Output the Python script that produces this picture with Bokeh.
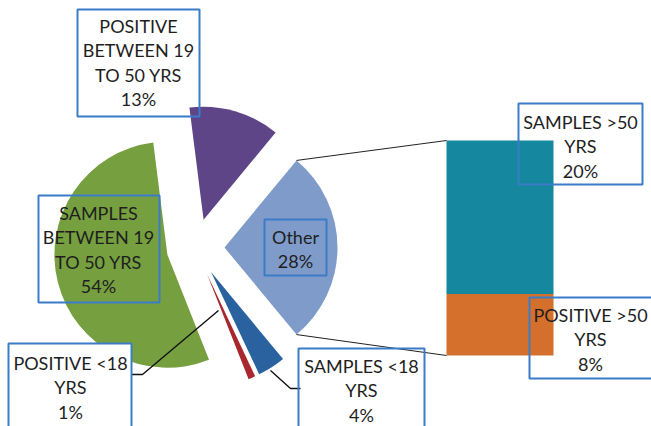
import numpy as np
from bokeh.plotting import figure
from bokeh.models import Range1d
from bokeh.core.properties import value
from bokeh.embed import file_html
from bokeh.resources import INLINE

# ---------------- data ----------------
pie_names = ["SAMPLES <18\nYRS", "POSITIVE <18\nYRS",
             "SAMPLES\nBETWEEN 19\nTO 50 YRS", "POSITIVE\nBETWEEN 19\nTO 50 YRS"]
pie_values = [4, 1, 54, 13]
pie_colors = ["#2A62A0", "#A8272F", "#76A03F", "#5E4587"]

bar_names = ["SAMPLES >50\nYRS", "POSITIVE >50\nYRS"]
bar_values = [20, 8]
bar_colors = ["#15879E", "#D4702C"]

other_name = "Other"
other_value = sum(bar_values)
other_color = "#7E9BC9"

# ---------------- layout (screen px -> data units, 1 unit = 1 px) ----------------
W, H = 651, 426
def Y(y):
    return H - y

PCX, PCY = 195, Y(247)   # pie centre
R = 113                  # pie radius
EXP = 29                 # explosion distance
DEG = 3.6                # degrees per percent

p = figure(width=W, height=H, x_range=Range1d(0, W), y_range=Range1d(0, H),
           output_backend="svg", toolbar_location=None, min_border=0,
           x_axis_location=None, y_axis_location=None)
p.grid.visible = False
p.outline_line_color = None
p.background_fill_color = "white"

# pie slices (clockwise, starting at bottom edge of "Other")
start = -other_value * DEG / 2
a = start
wx, wy, ws, we, wc = [], [], [], [], []
for v, c in zip(pie_values, pie_colors):
    end = a
    st = a - v * DEG
    mid = np.radians((st + end) / 2)
    wx.append(PCX + EXP * np.cos(mid)); wy.append(PCY + EXP * np.sin(mid))
    ws.append(np.radians(st)); we.append(np.radians(end)); wc.append(c)
    a = st
# other slice
o_st, o_end = start, start + other_value * DEG
o_mid = np.radians((o_st + o_end) / 2)
ox, oy = PCX + EXP * np.cos(o_mid), PCY + EXP * np.sin(o_mid)
wx.append(ox); wy.append(oy); ws.append(np.radians(o_st)); we.append(np.radians(o_end)); wc.append(other_color)

p.wedge(x=wx, y=wy, radius=R, start_angle=ws, end_angle=we,
        fill_color=wc, line_color=None)

# stacked bar for "Other"
BX0, BX1 = 446, 553
BBOT = Y(355)
BSCALE = 215 / other_value
bottom = BBOT
bar_rects = []
for v, c in reversed(list(zip(bar_values, bar_colors))):
    top = bottom + v * BSCALE
    bar_rects.append((bottom, top, c))
    bottom = top
p.quad(left=[BX0] * len(bar_rects), right=[BX1] * len(bar_rects),
       bottom=[r[0] for r in bar_rects], top=[r[1] for r in bar_rects],
       fill_color=[r[2] for r in bar_rects], line_color=None)
BTOP = bottom

# connector lines from "Other" slice to bar
tx = ox + R * np.cos(np.radians(o_end)); ty = oy + R * np.sin(np.radians(o_end))
bx = ox + R * np.cos(np.radians(o_st)); by = oy + R * np.sin(np.radians(o_st))
p.multi_line(xs=[[tx, BX0], [bx, BX0]], ys=[[ty, BTOP], [by, BBOT]],
             line_color="#222222", line_width=1)

# leader lines
p.multi_line(xs=[[131, 142, 218], [270, 290, 300]],
             ys=[[Y(374), Y(374), Y(310)], [Y(370), Y(388), Y(388)]],
             line_color="#111111", line_width=1.4)

# label boxes: (left, top, right, bottom) in screen px, centre x, first line y, fill
boxes = {
    "p0": (298, 348, 424, 432, 361, 365, None),      # samples <18
    "p1": (8, 343, 131, 432, 70, 362, "white"),      # positive <18
    "p2": (38, 195, 159, 302, 98, 212, None),        # samples 19-50
    "p3": (77, 9, 199, 116, 138, 25, None),          # positive 19-50
    "b0": (518, 103, 642, 184, 580, 121, None),      # samples >50
    "b1": (529, 297, 655, 378, 590, 314, None),      # positive >50
    "o":  (264, 219, 326, 275, 295, 236, None),      # other
}
labels = {}
for i, (n, v) in enumerate(zip(pie_names, pie_values)):
    labels["p%d" % i] = n.split("\n") + ["%d%%" % v]
for i, (n, v) in enumerate(zip(bar_names, bar_values)):
    labels["b%d" % i] = n.split("\n") + ["%d%%" % v]
labels["o"] = [other_name, "%d%%" % other_value]

LINE = 24.5
tx_, ty_, tt_ = [], [], []
for k, (l, t, r, b, cx, y0, fill) in boxes.items():
    p.quad(left=[l], right=[r], top=[Y(t)], bottom=[Y(b)],
           fill_color=fill if fill else None, fill_alpha=1.0 if fill else 0.0,
           line_color="#3A7CC7", line_width=2)
    for j, s in enumerate(labels[k]):
        tx_.append(cx); ty_.append(Y(y0 + j * LINE)); tt_.append(s)

p.text(x=tx_, y=ty_, text=tt_, text_font=value("Lato"), text_font_size="18px",
       text_align="center", text_baseline="middle", text_color="#1e1e1e")

open("out.html", "w").write(file_html(p, INLINE))
